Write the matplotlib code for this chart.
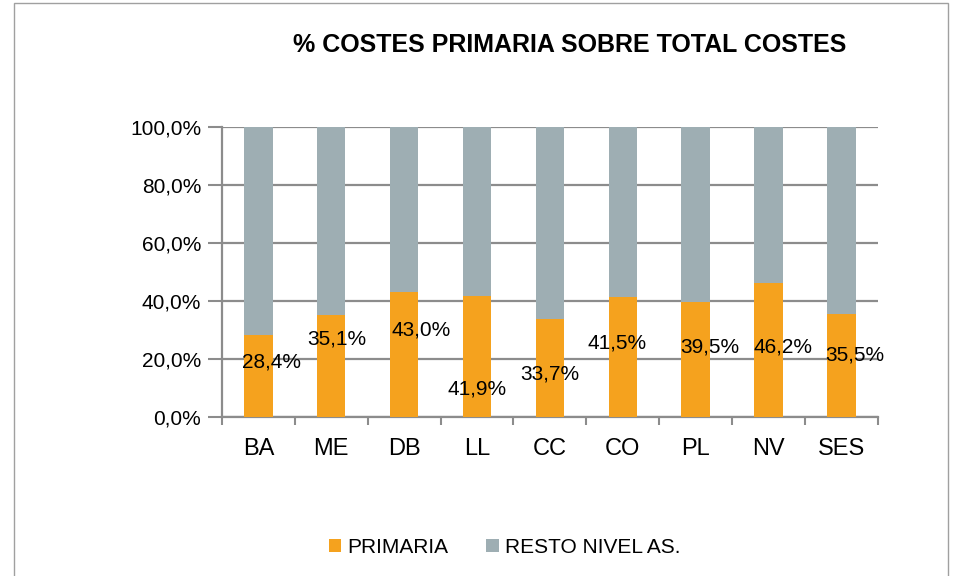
import numpy as np
import matplotlib
matplotlib.use("Agg")
import matplotlib.pyplot as plt
from matplotlib.patches import Rectangle

categories = ["BA", "ME", "DB", "LL", "CC", "CO", "PL", "NV", "SES"]
primaria = [28.4, 35.1, 43.0, 41.9, 33.7, 41.5, 39.5, 46.2, 35.5]
resto = [100 - v for v in primaria]
yticks = [0, 20, 40, 60, 80, 100]

# hand placed label spots (as in the original sheet)
label_dx = [0.18, 0.08, 0.23, 0.0, 0.0, -0.08, 0.2, 0.2, 0.19]
label_y = [19.0, 26.9, 30.0, 9.7, 14.8, 25.5, 24.1, 24.1, 21.4]

c_prim = '#F5A21E'
c_rest = '#9EAEB3'
grid_c = '#8C8C8C'

plt.rcParams['font.family'] = ['Liberation Sans', 'DejaVu Sans']

fig = plt.figure(figsize=(9.63, 5.76), dpi=100)
ax = fig.add_axes([0.2305, 0.276, 0.681, 0.5035])

x = np.arange(len(categories))
w = 0.39
ax.bar(x, primaria, w, color=c_prim, label='PRIMARIA', zorder=3)
ax.bar(x, resto, w, bottom=primaria, color=c_rest, label='RESTO NIVEL AS.', zorder=3)

for i, v in enumerate(primaria):
    ax.text(x[i] + label_dx[i], label_y[i], f"{v:.1f}%".replace('.', ','),
            ha='center', va='center', fontsize=15, zorder=4)

ax.set_xlim(-0.5, len(categories) - 0.5)
ax.set_ylim(0, 100)
ax.set_yticks(yticks)
ax.set_yticklabels([f"{t:.1f}%".replace('.', ',') for t in yticks], fontsize=15)
ax.set_xticks(x)
ax.set_xticklabels(categories, fontsize=17)
ax.set_xticks(np.arange(len(categories) + 1) - 0.5, minor=True)
ax.tick_params(axis='x', which='major', length=0, pad=15)
ax.tick_params(axis='x', which='minor', length=6, width=1.5, color=grid_c)
ax.tick_params(axis='y', length=10, width=1.5, color=grid_c, pad=5)

ax.grid(True, axis='y', color=grid_c, lw=1.6, zorder=0)
for s in ['top', 'right']:
    ax.spines[s].set_visible(False)
ax.spines['left'].set_color(grid_c)
ax.spines['left'].set_linewidth(1.6)
ax.spines['bottom'].set_color(grid_c)
ax.spines['bottom'].set_linewidth(1.6)

fig.text(0.592, 0.922, '% COSTES PRIMARIA SOBRE TOTAL COSTES', ha='center',
         va='center', fontsize=18, fontweight='bold')

fig.legend(loc='center', bbox_to_anchor=(0.524, 0.05), ncol=2, frameon=False,
           fontsize=15, handlelength=0.6, handleheight=0.6, columnspacing=1.8,
           handletextpad=0.3)

fig.patches.append(Rectangle((14 / 963, -0.01), (948 - 14) / 963, 1 - 3 / 576 + 0.01,
                             transform=fig.transFigure, fill=False,
                             edgecolor='#A0A0A0', lw=1))

plt.savefig('out.png', dpi=100)
